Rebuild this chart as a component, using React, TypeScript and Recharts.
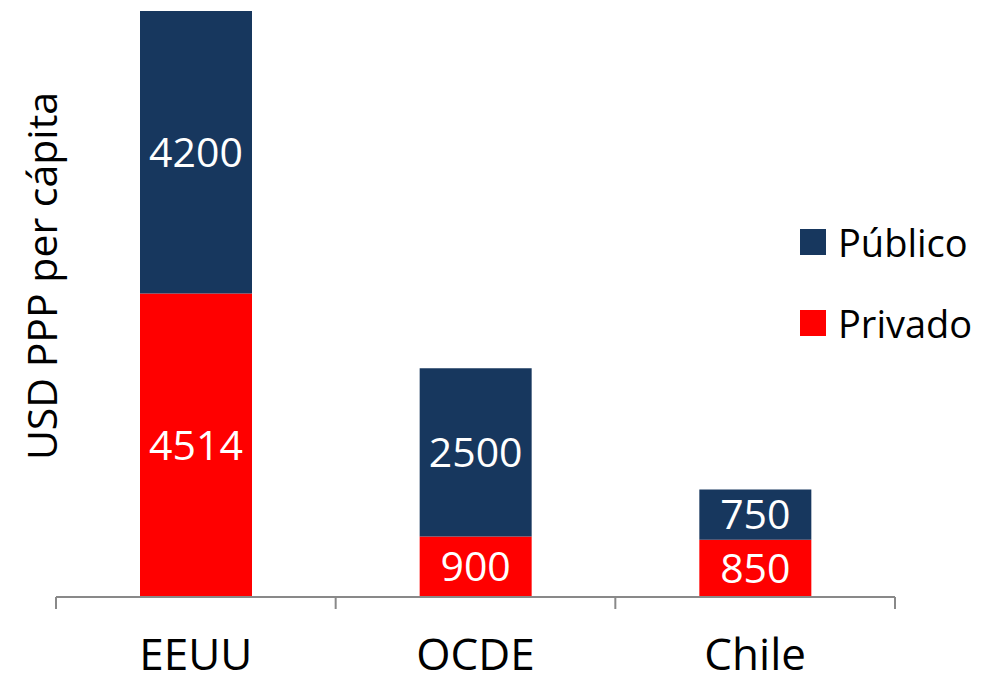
import { BarChart, Bar, XAxis, YAxis, Legend, LabelList } from 'recharts';

const categories = ['EEUU', 'OCDE', 'Chile'];
const privado = [4514, 900, 850];
const publico = [4200, 2500, 750];

const NAVY = '#17375E';
const RED = '#FF0000';
const AXIS = '#898989';
const FONT = '"Open Sans", sans-serif';

const data = categories.map((name, i) => ({ name, privado: privado[i], publico: publico[i] }));

// label well below the axis, plus separator ticks at the band edges (Excel style)
const CategoryTick = ({ x, y, payload, index, visibleTicksCount }: any) => {
  const half = payload.offset || 0;
  const last = index === visibleTicksCount - 1;
  return (
    <g>
      <line x1={x - half} x2={x - half} y1={y} y2={y + 12} stroke={AXIS} strokeWidth={2} />
      {last && <line x1={x + half} x2={x + half} y1={y} y2={y + 12} stroke={AXIS} strokeWidth={2} />}
      <text x={x} y={y + 73} textAnchor="middle" fontSize={44} fontFamily={FONT} fill="#000">
        {payload.value}
      </text>
    </g>
  );
};

const AxisTitle = () => (
  <text
    x={57}
    y={276}
    transform="rotate(-90 57 276)"
    textAnchor="middle"
    fontSize={41}
    fontFamily={FONT}
    fill="#000"
  >
    USD PPP per cápita
  </text>
);

const LegendBox = ({ payload }: any) => {
  const items = [...(payload || [])].reverse();
  return (
    <div>
      {items.map((item: any, i: number) => (
        <div key={i} style={{ display: 'flex', alignItems: 'center', height: 40, marginBottom: 41 }}>
          <div style={{ width: 26, height: 26, background: item.color, marginRight: 12 }} />
          <span style={{ fontSize: 38, lineHeight: '40px', fontFamily: FONT, color: '#000' }}>{item.value}</span>
        </div>
      ))}
    </div>
  );
};

export default function App() {
  return (
    <>
      <style>{'body{margin:0}'}</style>
      <BarChart
        width={989}
        height={676}
        data={data}
        margin={{ top: 11, right: 94, left: 0, bottom: 78 }}
        style={{ fontFamily: FONT }}
      >
        <XAxis
          dataKey="name"
          height={1}
          tickLine={false}
          tickSize={0}
          tickMargin={0}
          axisLine={{ stroke: AXIS, strokeWidth: 2 }}
          tick={<CategoryTick />}
          interval={0}
        />
        <YAxis
          width={56}
          domain={[0, 'dataMax']}
          axisLine={false}
          tickLine={false}
          tick={false}
          label={() => <AxisTitle />}
        />
        <Legend
          layout="horizontal"
          verticalAlign="middle"
          align="center"
          content={<LegendBox />}
          wrapperStyle={{ left: 800, top: 222, right: 'auto', width: 'auto', height: 'auto' }}
        />
        <Bar dataKey="privado" name="Privado" stackId="s" fill={RED} barSize={112} isAnimationActive={false}>
          <LabelList dataKey="privado" position="center" fill="#fff" fontSize={41} fontFamily={FONT} />
        </Bar>
        <Bar dataKey="publico" name="Público" stackId="s" fill={NAVY} barSize={112} isAnimationActive={false}>
          <LabelList dataKey="publico" position="center" fill="#fff" fontSize={41} fontFamily={FONT} />
        </Bar>
      </BarChart>
    </>
  );
}
